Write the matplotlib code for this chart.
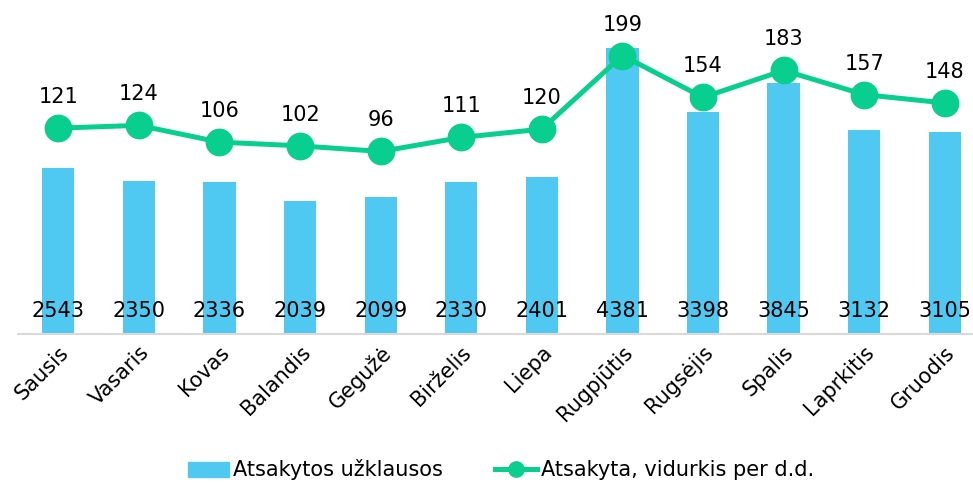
import matplotlib.pyplot as plt
from matplotlib.lines import Line2D
from matplotlib.patches import Patch

months = ['Sausis', 'Vasaris', 'Kovas', 'Balandis', 'Gegužė', 'Birželis',
          'Liepa', 'Rugpjūtis', 'Rugsėjis', 'Spalis', 'Laprkitis', 'Gruodis']
answered = [2543, 2350, 2336, 2039, 2099, 2330, 2401, 4381, 3398, 3845, 3132, 3105]
daily_avg = [121, 124, 106, 102, 96, 111, 120, 199, 154, 183, 157, 148]

bar_color = '#50C9F2'
line_color = '#08CF8D'

plt.rcParams['font.family'] = ['DejaVu Sans Condensed', 'DejaVu Sans']

W, H = 973, 483
fig = plt.figure(figsize=(W / 100, H / 100), dpi=100)
ax = fig.add_axes([18 / W, (H - 334) / H, 955 / W, 326 / H])
x = list(range(len(months)))

ax.bar(x, answered, width=0.4, color=bar_color, zorder=2)
ax.set_ylim(0, 5000)
ax.set_xlim(-0.5, 11.35)
for xi, v in zip(x, answered):
    ax.annotate(str(v), (xi, 0), xytext=(0, 23), textcoords='offset pixels',
                ha='center', va='center', fontsize=15, color='black', zorder=5)

for s in ['top', 'right', 'left']:
    ax.spines[s].set_visible(False)
ax.spines['bottom'].set_color('#D9D9D9')
ax.spines['bottom'].set_linewidth(1.5)
ax.set_yticks([])
ax.set_xticks(x)
ax.set_xticklabels(months, rotation=45, ha='right', rotation_mode='anchor',
                   fontsize=15)
ax.tick_params(axis='x', length=0, pad=6)

ax2 = ax.twinx()
ax2.set_ylim(-100, 250)
ax2.plot(x, daily_avg, color=line_color, lw=3.6, marker='o', markersize=19,
         zorder=3)
for xi, v in zip(x, daily_avg):
    ax2.annotate(str(v), (xi, v), xytext=(0, 21), textcoords='offset pixels',
                 ha='center', va='bottom', fontsize=15, color='black')
ax2.set_yticks([])
for s in ax2.spines.values():
    s.set_visible(False)

handles = [Patch(color=bar_color),
           Line2D([0], [0], color=line_color, lw=3.6, marker='o', markersize=11)]
fig.legend(handles, ['Atsakytos užklausos', 'Atsakyta, vidurkis per d.d.'],
           loc='center', bbox_to_anchor=(501 / W, 1 - 470 / H), ncol=2,
           frameon=False, fontsize=15, handlelength=2.0, handletextpad=0.2,
           columnspacing=2.5)

fig.savefig('out.png', dpi=100)
